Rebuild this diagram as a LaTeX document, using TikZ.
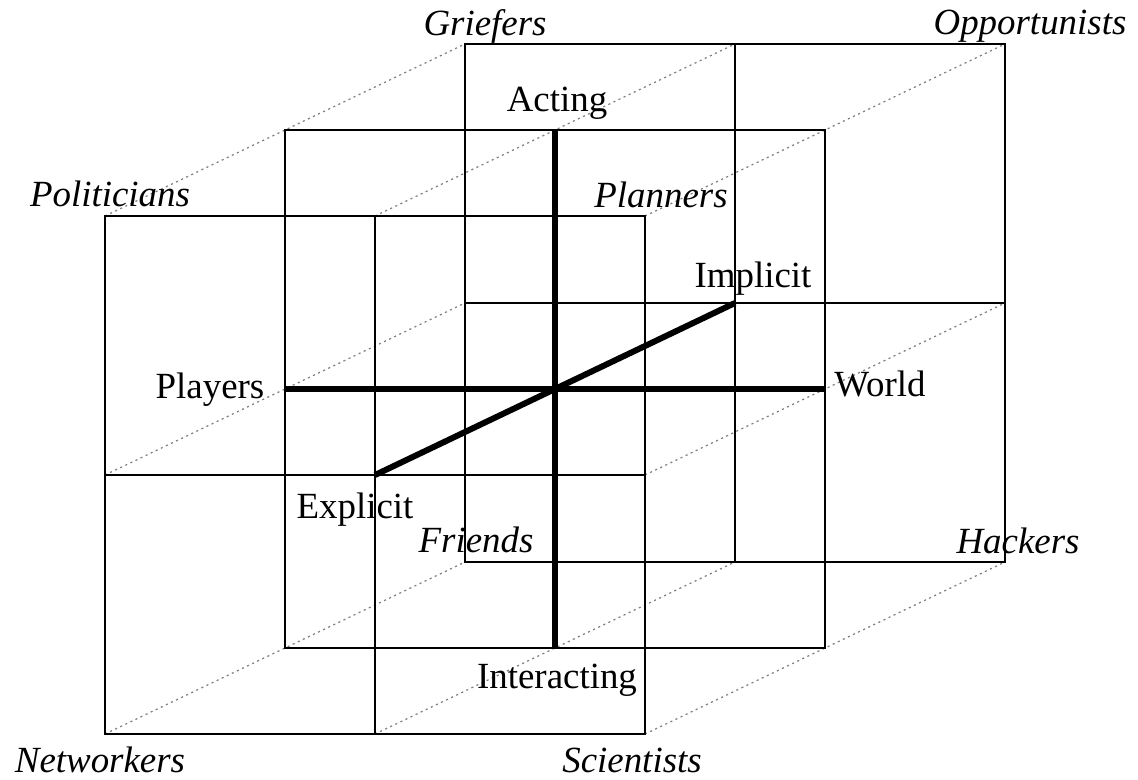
\documentclass[tikz,border=0pt]{standalone}
\usepackage{fontspec}
\setmainfont{Liberation Serif}
\usetikzlibrary{positioning}

\begin{document}
\begin{tikzpicture}[x=0.02cm, y=-0.02cm,
  facet/.style={line width=1.1pt},
  depth/.style={gray, line width=0.7pt, dash pattern=on 1.2pt off 2pt},
  axis/.style={line width=3.4pt},
  kind/.style={font=\fontsize{21}{24}\selectfont\itshape, inner sep=0pt, anchor=base},
  pole/.style={font=\fontsize{21}{24}\selectfont, inner sep=0pt, anchor=base}]
  \useasboundingbox (0,0) rectangle (1138,780);
  \foreach \i in {0,1,2} \foreach \j in {0,1,2} \foreach \k in {0,1,2}
    \coordinate (p\i\j\k) at ({555+(\i-1)*270+(\k-1)*180},{389+(\j-1)*259-(\k-1)*86});
  \foreach \i/\j in {0/0,1/0,2/0,0/1,2/1,0/2,1/2,2/2}
    \draw[depth] (p\i\j0) -- (p\i\j2);
  \draw[facet] (p000) rectangle (p220) (p100) -- (p120) (p010) -- (p210);
  \draw[facet] (p001) rectangle (p221);
  \draw[facet] (p002) rectangle (p222) (p102) -- (p122) (p012) -- (p212);
  \draw[axis] (p101) -- (p121) (p011) -- (p211) (p110) -- (p112);
  \node[kind] (griefers) at (485,36) {Griefers};
  \node[kind] (opportunists) at (1030,35) {Opportunists};
  \node[kind] (politicians) at (110,207) {Politicians};
  \node[kind] (planners) at (661,208) {Planners};
  \node[kind] (friends) at (476,552) {Friends};
  \node[kind] (hackers) at (1018,553) {Hackers};
  \node[kind] (networkers) at (100,772) {Networkers};
  \node[kind] (scientists) at (632,772) {Scientists};
  \node[pole] (acting) at (557,112) {Acting};
  \node[pole] (implicit) at (753,288) {Implicit};
  \node[pole] (players) at (210,398) {Players};
  \node[pole] (world) at (880,396) {World};
  \node[pole] (explicit) at (355,518) {Explicit};
  \node[pole] (interacting) at (557,688) {Interacting};
\end{tikzpicture}
\end{document}
